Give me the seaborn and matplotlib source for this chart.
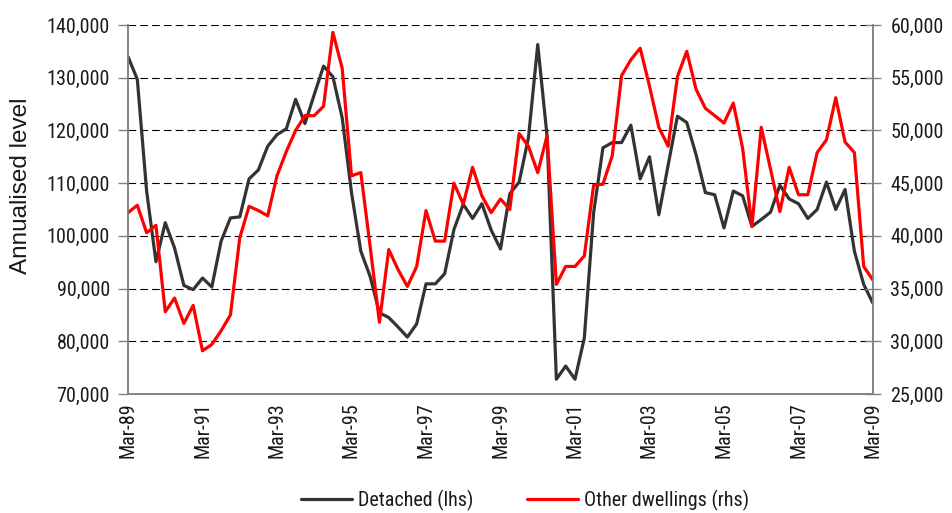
import numpy as np
import pandas as pd
import matplotlib
matplotlib.use("Agg")
import matplotlib.pyplot as plt
from matplotlib import font_manager
from matplotlib.ticker import FuncFormatter, FixedLocator
from matplotlib.transforms import Bbox
import seaborn as sns

# ---------------- data ----------------
months = ["Mar", "Jun", "Sep", "Dec"]
years = list(range(1989, 2010))
quarters = [f"{m}-{y % 100:02d}" for y in years for m in months][:81]

detached = [134000, 129700, 108500, 95100, 102500, 97700, 90600, 89800, 92000, 90300,
            99000, 103400, 103600, 110800, 112500, 117000, 119200, 120300, 125900, 121300,
            126800, 132200, 130200, 122400, 108200, 97100, 92300, 85400, 84500, 82700,
            80800, 83300, 90900, 90900, 92800, 101200, 106000, 103300, 106100, 101100,
            97500, 108000, 110200, 118600, 136300, 118900, 72800, 75300, 72800, 80600,
            104400, 116700, 117700, 117700, 121000, 110800, 115000, 104000, 113400, 122700,
            121500, 115400, 108200, 107800, 101500, 108500, 107600, 101800, 103100, 104500,
            109600, 107000, 106100, 103300, 105000, 110200, 105000, 108800, 97100, 90800,
            87200]

other_dwellings = [42200, 42900, 40300, 41000, 32800, 34100, 31700, 33400, 29100, 29700,
                   31000, 32500, 39800, 42800, 42400, 41900, 45700, 48000, 50000, 51400,
                   51400, 52300, 59300, 55900, 45700, 46000, 39000, 31800, 38700, 36800,
                   35200, 37100, 42400, 39500, 39500, 45000, 43000, 46500, 43800, 42200,
                   43500, 42500, 49700, 48500, 46000, 49500, 35400, 37100, 37100, 38100,
                   44800, 44900, 47600, 55200, 56700, 57800, 54200, 50300, 48500, 55100,
                   57500, 53900, 52100, 51400, 50700, 52600, 48300, 40900, 50300, 46300,
                   42300, 46500, 43900, 43900, 47900, 49100, 53100, 48900, 47900, 37100,
                   35800]

tick_labels = ["Mar-89", "Mar-91", "Mar-93", "Mar-95", "Mar-97", "Mar-99",
               "Mar-01", "Mar-03", "Mar-05", "Mar-07", "Mar-09"]
left_ticks = [70000, 80000, 90000, 100000, 110000, 120000, 130000, 140000]
right_ticks = [25000, 30000, 35000, 40000, 45000, 50000, 55000, 60000]
series_names = ["Detached (lhs)", "Other dwellings (rhs)"]
y_label = "Annualised level"

df = pd.DataFrame({"quarter": quarters, "detached": detached, "other": other_dwellings})
df["pos"] = np.arange(len(df))

# ---------------- font choice (narrow font like the original) ----------------
sns.set_style("white")
ttf = font_manager.fontManager.ttflist
names = {f.name for f in ttf}


def choose_font():
    for p in ["Liberation Sans Narrow", "Arial Narrow", "Roboto Condensed",
              "Open Sans Condensed", "Noto Sans Condensed", "DejaVu Sans Condensed"]:
        if p in names:
            return p, "normal", 14.5
    for base in ["DejaVu Sans", "Noto Sans", "Open Sans", "Roboto", "Inter"]:
        for f in ttf:
            if f.name == base and str(f.stretch) in ("condensed", "semi-condensed",
                                                     "extra-condensed", "75", "87", "62"):
                return base, "condensed", 13.5
    return "Liberation Sans", "normal", 13.0


fam, stretch, fs = choose_font()
plt.rcParams["font.family"] = [fam, "DejaVu Sans"]
plt.rcParams["font.stretch"] = stretch
plt.rcParams["lines.scale_dashes"] = False
txt_color = "#1a1a1a"
spine_color = "#808080"

W, H = 952, 513
fig = plt.figure(figsize=(W / 100, H / 100), dpi=100)
L, R, T, B = 128, 873, 25, 394
ax = fig.add_axes([L / W, 1 - B / H, (R - L) / W, (B - T) / H])
ax2 = ax.twinx()

sns.lineplot(data=df, x="pos", y="detached", ax=ax, color="#333333", linewidth=2.3,
             label=series_names[0], legend=False)
sns.lineplot(data=df, x="pos", y="other", ax=ax2, color="#ff0000", linewidth=2.3,
             label=series_names[1], legend=False)

ax.set_xlim(0, len(df) - 1)
ax.set_ylim(70000, 140000)
ax2.set_ylim(25000, 60000)

fmt = FuncFormatter(lambda v, p: f"{v:,.0f}")
ax.yaxis.set_major_locator(FixedLocator(left_ticks))
ax2.yaxis.set_major_locator(FixedLocator(right_ticks))
ax.yaxis.set_major_formatter(fmt)
ax2.yaxis.set_major_formatter(fmt)

tick_pos = [quarters.index(t) for t in tick_labels]
ax.set_xticks(tick_pos)
ax.set_xticklabels(tick_labels, rotation=90)

ax.set_xlabel("")
ax.set_ylabel("")
ax2.set_ylabel("")

for a in (ax, ax2):
    a.spines["top"].set_visible(False)
    for s in ["left", "right", "bottom"]:
        a.spines[s].set_color(spine_color)
        a.spines[s].set_linewidth(1.1)

ax.tick_params(axis="y", direction="out", length=7, width=1, color=spine_color,
               labelsize=fs, labelcolor=txt_color, pad=6)
ax2.tick_params(axis="y", direction="inout", length=11, width=1, color=spine_color,
                labelsize=fs, labelcolor=txt_color, pad=7)
ax.tick_params(axis="x", direction="out", length=4.5, width=1, color=spine_color,
               labelsize=fs, labelcolor=txt_color, pad=1.5)

ax.yaxis.grid(True, color="black", linewidth=0.8, linestyle=(0, (5.5, 3.0)))
ax.xaxis.grid(False)
ax2.grid(False)
ax.set_axisbelow(True)

# y label (wider regular font, clipped at the top as in the original)
t = fig.text(21 / W, 1 - 274 / H, y_label, rotation=90, ha="center", va="bottom",
             fontsize=17.5, color=txt_color, clip_on=True,
             family=["Liberation Sans", "DejaVu Sans"], stretch="normal")
t.set_clip_box(Bbox.from_extents(0, 0, W, H - 100))

# legend
h1, l1 = ax.get_legend_handles_labels()
h2, l2 = ax2.get_legend_handles_labels()
fig.legend(h1 + h2, l1 + l2, loc="center", bbox_to_anchor=(525 / W, 1 - 500 / H),
           ncol=2, frameon=False, fontsize=fs, handlelength=2.5, handletextpad=0.3,
           columnspacing=2.7, labelcolor=txt_color)

fig.savefig("out.png", dpi=100)
